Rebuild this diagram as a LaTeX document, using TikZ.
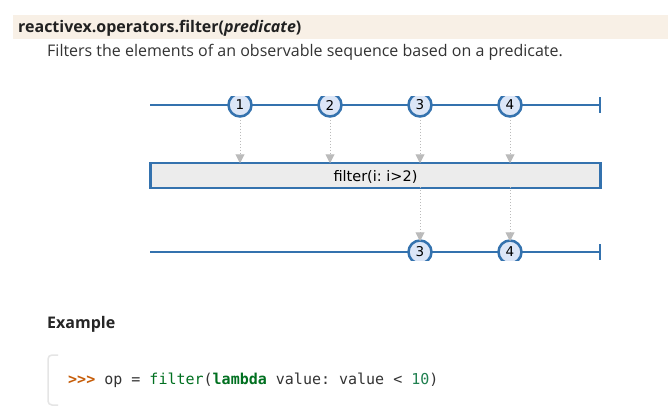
\documentclass[tikz,border=0pt]{standalone}
\usepackage{fontspec}
\setmainfont{Open Sans}
\newfontfamily\diagfont{DejaVu Sans}
\newfontfamily\codefont{DejaVu Sans Mono}
\usetikzlibrary{arrows.meta}
\frenchspacing

\definecolor{rxblue}{HTML}{3472AE}
\definecolor{rxmarble}{HTML}{DCE6F7}
\definecolor{rxbox}{HTML}{ECECEC}
\definecolor{rxtip}{HTML}{BBBBBB}
\definecolor{bandbg}{HTML}{F8F0E6}
\definecolor{pyprompt}{HTML}{C65D09}
\definecolor{pybuiltin}{HTML}{007020}
\definecolor{pynum}{HTML}{208050}

\begin{document}
\begin{tikzpicture}[
	  x=1pt, y=-1pt,
	  timeline/.style={draw=rxblue, line width=2.5pt},
	  marble/.style={circle, draw=rxblue, line width=2.5pt, fill=rxmarble,
	    minimum size=23pt, inner sep=0pt, font=\diagfont\fontsize{13.5}{13.5}\selectfont},
	  opbox/.style={draw=rxblue, line width=2.5pt, fill=rxbox, minimum width=450pt,
	    minimum height=25pt, inner sep=0pt, text height=12pt, text depth=1pt,
	    font=\diagfont\fontsize{14.5}{14.5}\selectfont},
	  flow/.style={draw=rxtip, dotted, line width=1pt,
	    -{Triangle[width=9pt,length=9pt,fill=rxtip]}},
	]

	\useasboundingbox (0,0) rectangle (668,412);
	\fill [white] (0,0) rectangle (668,412);

	\fill [bandbg] (13,15) rectangle (668,39);
	\node [anchor=west, inner sep=0pt, text=black!87, font=\fontsize{16}{16}\selectfont\bfseries] (title)
	  at (18,28.5) {reactivex.operators.filter(\textit{predicate})};
	\node [anchor=west, inner sep=0pt, text=black!80, font=\fontsize{16}{16}\selectfont] (summary)
	  at (47,52) {Filters the elements of an observable sequence based on a predicate.};

	\coordinate (ins) at (150,105);
	\coordinate (ine) at (600,105);
	\coordinate (outs) at (150,252);
	\coordinate (oute) at (600,252);
	\draw [timeline] (ins) -- (ine);
	\draw [timeline] (ine) ++(0,-8) -- ++(0,16);
	\draw [timeline] (outs) -- (oute);
	\draw [timeline] (oute) ++(0,-8) -- ++(0,16);

	\node [opbox] (op) at (375.5,175.5) {filter(i: i>2)};

	\begin{scope}
	  \clip (140,96.5) rectangle (620,130);
	  \foreach \v/\x in {1/240,2/330,3/420,4/510}
	    \node [marble] (in\v) at (\x,105) {\v};
	\end{scope}
	\begin{scope}
	  \clip (140,230) rectangle (620,260);
	  \foreach \v/\x in {3/420,4/510}
	    \node [marble] (out\v) at (\x,252) {\v};
	\end{scope}

	\foreach \v in {1,2,3,4}
	  \draw [flow] (in\v.south) ++(0,2) -- ([yshift=-1.5pt]in\v |- op.north);
	\foreach \v in {3,4}
	  \draw [flow] ([yshift=2pt]out\v |- op.south) -- ([yshift=-2pt]out\v.north);

	\node [anchor=west, inner sep=0pt, text=black!85, font=\fontsize{16}{16}\selectfont\bfseries] (example)
	  at (47,324) {Example};
	\draw [black!10, line width=1.5pt, rounded corners=4pt] (58,355) -- (48,355) -- (48,405) -- (58,405);
	\node [anchor=west, inner sep=0pt, text=black!80, font=\codefont\fontsize{15}{15}\selectfont] (code)
	  at (68,380) {\textcolor{pyprompt}{\bfseries >>>} op = \textcolor{pybuiltin}{filter}(\textcolor{pybuiltin}{\bfseries lambda} value: value < \textcolor{pynum}{10})};
\end{tikzpicture}
\end{document}
